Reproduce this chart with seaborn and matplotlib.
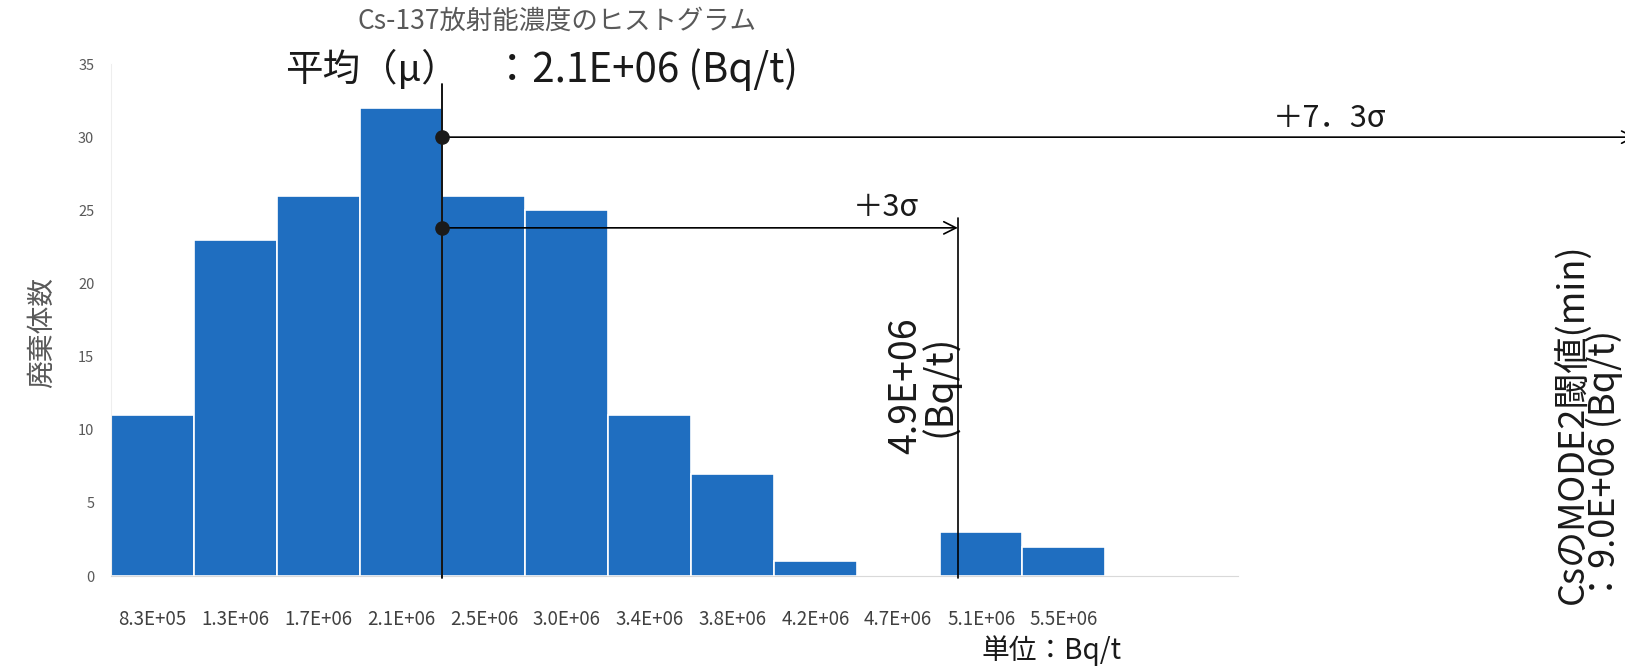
import matplotlib
matplotlib.use("Agg")
import matplotlib.pyplot as plt
import seaborn as sns

# Cs-137 ヒストグラムの階級ラベルと度数
bin_labels = ["8.3E+05", "1.3E+06", "1.7E+06", "2.1E+06", "2.5E+06", "3.0E+06",
              "3.4E+06", "3.8E+06", "4.2E+06", "4.7E+06", "5.1E+06", "5.5E+06"]
counts = [11, 23, 26, 32, 26, 25, 11, 7, 1, 0, 3, 2]
y_ticks = [0, 5, 10, 15, 20, 25, 30, 35]

title_text = "Cs-137放射能濃度のヒストグラム"
mean_head = "平均（μ）"
mean_value = "：2.1E+06 (Bq/t)"
sigma3_text = "＋3σ"
sigma73_text = "＋7．3σ"
sigma3_value_text = "4.9E+06\n(Bq/t)"
threshold_text = "CsのMODE2閾値(min)\n：9.0E+06 (Bq/t)"
ylabel_text = "廃棄体数"
unit_text = "単位：Bq/t"

sns.set_style("white")
plt.rcParams["font.family"] = ["Noto Sans CJK JP", "DejaVu Sans"]

fig = plt.figure(figsize=(16.25, 6.66), dpi=100)
ax = fig.add_axes([0.0683, 0.1351, 0.6935, 0.7688])

sns.barplot(x=bin_labels, y=counts, color="#1f6ec0", saturation=1, width=1,
            edgecolor="white", linewidth=1.2, ax=ax)
ax.set_xlim(-0.5, 13.1)
ax.set_ylim(0, 35)
ax.set_yticks(y_ticks)
ax.set_xlabel("")
ax.set_ylabel("")
ax.tick_params(axis="y", labelsize=10.5, labelcolor="#595959", pad=12, length=0)
ax.tick_params(axis="x", labelsize=13.5, labelcolor="#404040", pad=24, length=0)
for side in ["top", "right"]:
    ax.spines[side].set_visible(False)
ax.spines["left"].set_color("#eeeeee")
ax.spines["bottom"].set_color("#d9d9d9")

# 平均線と矢印
ax.plot([3.5, 3.5], [-0.15, 33.6], color="black", lw=1.3, clip_on=False, zorder=5)
ax.scatter([3.5, 3.5], [30, 23.8], s=90, color="#1a1a1a", zorder=6, clip_on=False)
ax.annotate("", xy=(17.9, 30), xytext=(3.5, 30), annotation_clip=False,
            arrowprops=dict(arrowstyle="->", color="black", lw=1.2,
                            mutation_scale=22, shrinkA=0, shrinkB=0))
ax.annotate("", xy=(9.72, 23.8), xytext=(3.5, 23.8), annotation_clip=False,
            arrowprops=dict(arrowstyle="->", color="black", lw=1.2,
                            mutation_scale=22, shrinkA=0, shrinkB=0))
ax.plot([9.72, 9.72], [-0.15, 24.5], color="black", lw=1.2, clip_on=False, zorder=5)

ax.text(8.85, 25.2, sigma3_text, fontsize=22, ha="center", va="center", color="#1a1a1a")
ax.text(14.2, 31.3, sigma73_text, fontsize=22, ha="center", va="center", color="#1a1a1a")
ax.text(9.3, 13.0, sigma3_value_text, fontsize=27, rotation=90, ha="center",
        va="center", multialignment="center", linespacing=0.8, color="#1a1a1a")
ax.text(17.33, 10.4, threshold_text, fontsize=26, rotation=90, ha="center",
        va="center", multialignment="left", linespacing=0.8, color="#1a1a1a")

fig.text(0.343, 0.968, title_text, fontsize=19, ha="center", va="center", color="#595959")
fig.text(0.1755, 0.895, mean_head, fontsize=27, ha="left", va="center", color="#1a1a1a")
fig.text(0.491, 0.895, mean_value, fontsize=29, ha="right", va="center", color="#1a1a1a")
fig.text(0.026, 0.5, ylabel_text, fontsize=20, rotation=90, ha="center",
         va="center", color="#595959")
fig.text(0.647, 0.023, unit_text, fontsize=20, ha="center", va="center", color="#1a1a1a")

fig.savefig("out.png", dpi=100)
